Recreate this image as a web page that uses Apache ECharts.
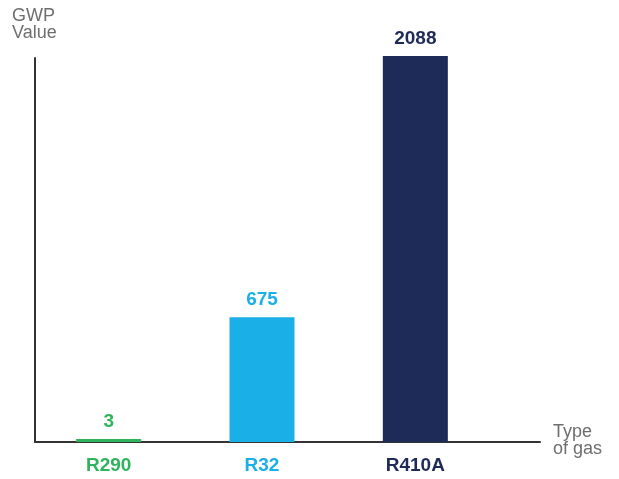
<!DOCTYPE html>
<html>
<head>
<meta charset="utf-8">
<script src="https://cdn.jsdelivr.net/npm/echarts@6/dist/echarts.min.js"></script>
<style>html,body{margin:0;padding:0;background:#fff}#c{width:619px;height:479px}</style>
</head>
<body>
<div id="c"></div>
<script>
const categories = ['R290', 'R32', 'R410A'];
const gwpValues = [3, 675, 2088];
const barColors = ['#2fb35b', '#1aafe6', '#1e2b58'];
const FONT = '"Liberation Sans", Arial, Helvetica, sans-serif';

const chart = echarts.init(document.getElementById('c'), null, {renderer: 'canvas'});
chart.setOption({
  animation: false,
  title: [
    {text: 'GWP\nValue', left: 12, top: 7, padding: 0, textStyle: {fontFamily: FONT, fontSize: 18, fontWeight: 'normal', color: '#6e6e6e', lineHeight: 17.5}},
    {text: 'Type\nof gas', left: 553, top: 423, padding: 0, textStyle: {fontFamily: FONT, fontSize: 18, fontWeight: 'normal', color: '#6e6e6e', lineHeight: 17.5}}
  ],
  grid: [
    {left: 32, right: 127, top: 56, bottom: 37},
    {left: 35, right: 79, top: 58, bottom: 37}
  ],
  xAxis: [
    {
      type: 'category', gridIndex: 0, data: categories,
      axisLine: {show: false}, axisTick: {show: false},
      axisLabel: {
        margin: 14, fontFamily: FONT, fontSize: 19, fontWeight: 'bold',
        color: function (v, i) { return barColors[i]; }
      }
    },
    {
      type: 'value', gridIndex: 1, min: 0, max: 1,
      axisLine: {show: true, lineStyle: {color: '#333', width: 2}},
      axisTick: {show: false}, axisLabel: {show: false}, splitLine: {show: false}
    }
  ],
  yAxis: [
    {
      type: 'value', gridIndex: 0, min: 0, max: 2088,
      axisLine: {show: false}, axisTick: {show: false}, axisLabel: {show: false}, splitLine: {show: false}
    },
    {
      type: 'value', gridIndex: 1, min: 0, max: 1,
      axisLine: {show: true, lineStyle: {color: '#333', width: 2}},
      axisTick: {show: false}, axisLabel: {show: false}, splitLine: {show: false}
    }
  ],
  series: [{
    type: 'bar', xAxisIndex: 0, yAxisIndex: 0,
    barWidth: 65, barMinHeight: 3,
    data: gwpValues.map((v, i) => ({value: v, itemStyle: {color: barColors[i]}, label: {color: barColors[i]}})),
    label: {show: true, position: 'top', distance: 8, fontFamily: FONT, fontSize: 19, fontWeight: 'bold'}
  }]
});
</script>
</body>
</html>
